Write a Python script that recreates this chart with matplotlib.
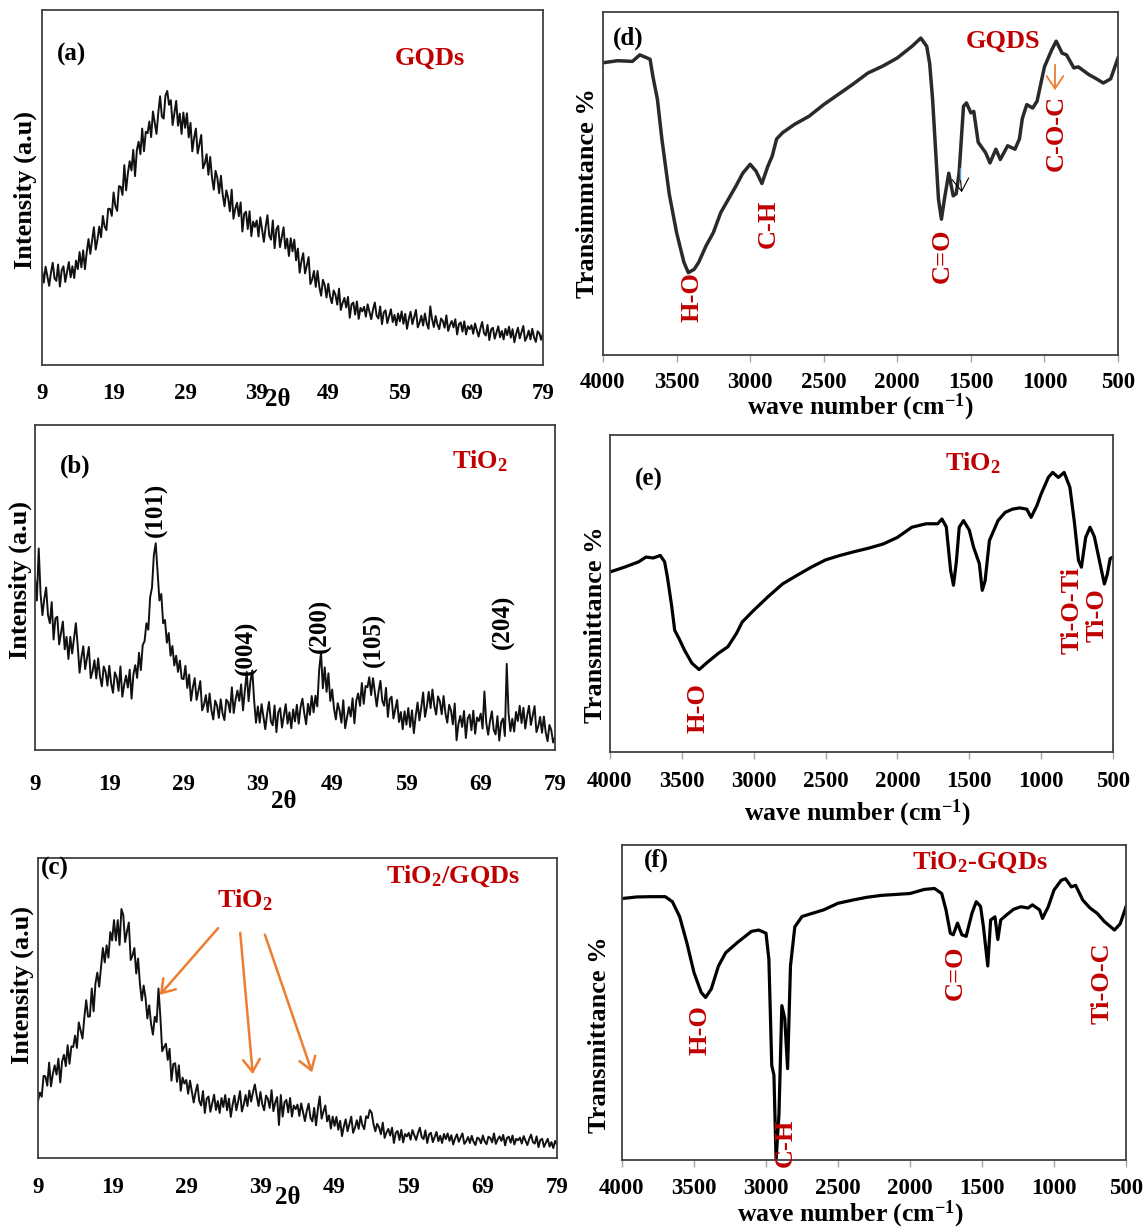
"""
plot.py
XRD patterns (a-c) and FTIR spectra (d-f) of GQDs, TiO2 and TiO2/GQDs.
"""

import matplotlib
matplotlib.use('Agg')
import matplotlib.pyplot as plt
import numpy as np

plt.rcParams['font.family'] = ['Liberation Serif', 'DejaVu Serif']
plt.rcParams['font.weight'] = 'bold'
plt.rcParams['mathtext.fontset'] = 'custom'
plt.rcParams['mathtext.rm'] = 'Liberation Serif:bold'
plt.rcParams['mathtext.bf'] = 'Liberation Serif:bold'
plt.rcParams['mathtext.it'] = 'Liberation Serif:bold'

# Constants
W, H = 1145, 1229
RED = '#C00000'
ORANGE = '#ED7D31'
SPINE = '#404040'

# ---------------- XRD data (2 theta step 0.25 deg, 9 -> 79) ----------------
TWO_THETA_START = 9
TWO_THETA_STEP = 0.25

# each row covers 5 degrees
xrd_gqds = [
    .268, .232, .277, .250, .223, .260, .288, .244, .237, .283, .221, .267, .278, .234, .262, .290, .247, .278, .245, .294,
    .270, .318, .275, .323, .270, .318, .355, .313, .350, .388, .325, .353, .390, .360, .420, .390, .380, .440, .440, .420,
    .486, .448, .434, .504, .502, .479, .563, .492, .540, .574, .548, .606, .532, .605, .629, .594, .666, .602, .657, .653,
    .686, .642, .714, .683, .651, .711, .757, .700, .694, .759, .772, .733, .746, .676, .710, .744, .674, .708, .651, .711,
    .668, .709, .641, .682, .602, .640, .666, .596, .622, .648, .554, .568, .594, .536, .586, .528, .494, .547, .527, .484,
    .533, .479, .447, .492, .471, .433, .494, .412, .440, .457, .419, .458, .376, .426, .432, .383, .433, .363, .404, .389,
    .407, .362, .416, .381, .347, .390, .422, .365, .353, .407, .329, .382, .392, .332, .360, .388, .328, .356, .307, .357,
    .320, .353, .295, .328, .260, .293, .315, .258, .280, .304, .228, .241, .265, .220, .265, .220, .195, .240, .225, .190,
    .229, .193, .174, .210, .198, .170, .215, .155, .175, .189, .162, .192, .133, .171, .176, .142, .179, .130, .161, .151,
    .164, .136, .171, .150, .129, .156, .176, .139, .131, .165, .115, .148, .154, .118, .138, .157, .121, .141, .112, .145,
    .123, .151, .116, .144, .102, .130, .150, .115, .135, .155, .106, .119, .139, .111, .145, .117, .102, .165, .129, .107,
    .138, .114, .101, .131, .124, .105, .140, .096, .113, .124, .106, .129, .086, .115, .120, .094, .123, .086, .109, .101,
    .112, .088, .117, .099, .080, .103, .121, .090, .083, .113, .070, .100, .105, .074, .092, .109, .078, .096, .072, .102,
    .084, .108, .077, .101, .064, .088, .105, .075, .092, .110, .068, .079, .097, .072, .102, .078, .065, .095, .089, .071,
    .090]

xrd_tio2 = [
    .530, .460, .620, .480, .415, .465, .500, .415, .390, .455, .340, .405, .410, .325, .360, .395, .310, .348, .280, .348,
    .297, .344, .390, .321, .238, .285, .319, .249, .283, .317, .221, .242, .276, .220, .282, .226, .196, .257, .241, .198,
    .259, .205, .176, .239, .223, .182, .257, .164, .200, .229, .192, .247, .158, .233, .261, .222, .299, .246, .323, .335,
    .390, .370, .470, .500, .600, .636, .550, .460, .480, .390, .400, .330, .360, .290, .320, .260, .290, .240, .275, .220,
    .218, .259, .191, .232, .152, .193, .221, .154, .182, .212, .122, .139, .169, .117, .174, .122, .094, .152, .137, .099,
    .156, .112, .092, .155, .147, .116, .193, .114, .155, .183, .151, .202, .122, .183, .240, .150, .211, .245, .152, .084,
    .134, .084, .141, .103, .064, .112, .148, .088, .076, .137, .055, .116, .129, .069, .105, .141, .081, .116, .067, .125,
    .088, .139, .081, .132, .158, .113, .079, .142, .108, .166, .116, .167, .134, .246, .300, .190, .254, .179, .236, .151,
    .186, .128, .094, .144, .122, .084, .153, .067, .100, .132, .103, .159, .082, .152, .174, .136, .206, .142, .197, .193,
    .224, .169, .221, .178, .134, .180, .213, .151, .136, .191, .102, .157, .164, .097, .125, .154, .086, .117, .064, .119,
    .078, .129, .071, .122, .052, .105, .146, .091, .132, .177, .102, .134, .179, .129, .186, .136, .109, .165, .150, .110,
    .166, .113, .084, .139, .122, .079, .143, .030, .080, .105, .071, .120, .037, .097, .109, .061, .121, .050, .100, .089,
    .112, .066, .180, .083, .047, .089, .119, .062, .048, .104, .029, .085, .097, .043, .265, .112, .058, .096, .057, .117,
    .089, .136, .083, .130, .066, .106, .136, .077, .106, .135, .055, .073, .102, .053, .103, .054, .027, .077, .061, .023,
    .040]

xrd_tio2_gqds = [
    .190, .218, .204, .274, .272, .241, .318, .239, .280, .309, .278, .331, .252, .322, .344, .306, .376, .314, .372, .370,
    .408, .367, .452, .425, .398, .469, .526, .471, .472, .565, .489, .582, .618, .571, .635, .700, .652, .709, .668, .753,
    .725, .793, .725, .793, .710, .830, .810, .720, .755, .785, .660, .675, .700, .615, .665, .580, .525, .575, .535, .465,
    .509, .447, .411, .471, .453, .565, .472, .356, .370, .381, .327, .364, .258, .313, .316, .254, .309, .224, .268, .248,
    .260, .214, .258, .221, .185, .220, .245, .190, .175, .223, .150, .198, .205, .154, .183, .211, .160, .190, .150, .200,
    .170, .210, .159, .198, .137, .178, .208, .159, .190, .223, .155, .178, .210, .173, .225, .188, .220, .245, .207, .173,
    .220, .179, .159, .208, .197, .167, .226, .156, .185, .203, .110, .210, .138, .186, .194, .152, .200, .138, .175, .163,
    .178, .140, .182, .153, .123, .157, .181, .134, .122, .167, .109, .164, .205, .131, .155, .175, .122, .142, .098, .138,
    .107, .137, .094, .124, .073, .105, .129, .089, .113, .138, .084, .101, .126, .097, .139, .110, .096, .139, .133, .160,
    .151, .113, .089, .114, .102, .079, .118, .067, .085, .097, .075, .101, .050, .084, .090, .060, .094, .052, .080, .072,
    .084, .061, .093, .076, .060, .083, .101, .070, .063, .092, .050, .079, .084, .053, .070, .087, .056, .074, .050, .080,
    .063, .082, .057, .076, .045, .065, .079, .054, .068, .082, .047, .056, .070, .050, .074, .054, .043, .068, .064, .049,
    .075, .055, .046, .071, .067, .052, .082, .047, .062, .072, .057, .077, .042, .067, .071, .051, .075, .045, .064, .059,
    .068, .048, .073, .058, .043, .063, .078, .053, .048, .072, .036, .060, .064, .037, .051, .064, .038, .053, .033, .057,
    .045]

xrd_ticks = [9, 19, 29, 39, 49, 59, 69, 79]

# ---------------- FTIR data ----------------
wn_gqds = [4000, 3900, 3800, 3750, 3700, 3680, 3660, 3630, 3600, 3550,
           3500, 3450, 3420, 3380, 3350, 3300, 3250, 3200, 3100, 3050,
           3000, 2960, 2920, 2880, 2850, 2820, 2780, 2700, 2600, 2500,
           2400, 2300, 2200, 2100, 2000, 1900, 1840, 1800, 1780, 1760,
           1740, 1720, 1700, 1680, 1650, 1620, 1600, 1580, 1550, 1530,
           1500, 1480, 1450, 1400, 1370, 1330, 1300, 1250, 1200, 1170,
           1150, 1120, 1080, 1050, 1020, 1000, 950, 920, 880, 850,
           800, 770, 700, 650, 600, 550, 500]
tr_gqds = [0.852, 0.858, 0.856, 0.875, 0.866, 0.862, 0.81, 0.745, 0.63, 0.47,
           0.357, 0.27, 0.24, 0.25, 0.27, 0.318, 0.357, 0.415, 0.49, 0.53,
           0.556, 0.536, 0.50, 0.55, 0.58, 0.63, 0.648, 0.672, 0.696, 0.73,
           0.76, 0.79, 0.822, 0.842, 0.866, 0.90, 0.924, 0.90, 0.85, 0.745,
           0.60, 0.454, 0.396, 0.454, 0.53, 0.464, 0.47, 0.53, 0.725, 0.735,
           0.706, 0.71, 0.62, 0.59, 0.56, 0.60, 0.57, 0.61, 0.60, 0.63,
           0.69, 0.73, 0.72, 0.74, 0.80, 0.84, 0.89, 0.915, 0.88, 0.875,
           0.837, 0.84, 0.818, 0.806, 0.793, 0.805, 0.866]

wn_tio2 = [4000, 3900, 3800, 3750, 3700, 3650, 3620, 3600, 3570, 3550,
           3520, 3480, 3430, 3380, 3330, 3250, 3180, 3120, 3080, 3000,
           2900, 2800, 2700, 2600, 2500, 2400, 2300, 2200, 2100, 2000,
           1900, 1800, 1720, 1690, 1660, 1630, 1610, 1590, 1570, 1540,
           1500, 1470, 1430, 1410, 1390, 1360, 1300, 1250, 1200, 1150,
           1100, 1070, 1030, 1000, 950, 920, 880, 840, 800, 770,
           740, 720, 690, 660, 630, 590, 560, 540, 520, 500]
tr_tio2 = [0.568, 0.583, 0.60, 0.615, 0.612, 0.62, 0.60, 0.55, 0.458, 0.384,
           0.358, 0.32, 0.28, 0.26, 0.28, 0.31, 0.332, 0.374, 0.41, 0.447,
           0.49, 0.53, 0.557, 0.583, 0.606, 0.62, 0.632, 0.643, 0.656, 0.677,
           0.709, 0.72, 0.72, 0.735, 0.71, 0.573, 0.526, 0.60, 0.709, 0.73,
           0.70, 0.646, 0.594, 0.51, 0.54, 0.667, 0.73, 0.756, 0.766, 0.77,
           0.766, 0.74, 0.777, 0.814, 0.866, 0.882, 0.866, 0.882, 0.835, 0.73,
           0.604, 0.583, 0.677, 0.709, 0.68, 0.594, 0.53, 0.56, 0.61, 0.615]

wn_tio2_gqds = [4000, 3900, 3800, 3700, 3650, 3600, 3550, 3500, 3450, 3420,
                3380, 3330, 3280, 3200, 3100, 3050, 3000, 2980, 2960, 2945,
                2930, 2910, 2890, 2870, 2850, 2830, 2800, 2750, 2700, 2600,
                2500, 2400, 2300, 2200, 2000, 1900, 1830, 1780, 1750, 1720,
                1700, 1670, 1640, 1610, 1570, 1540, 1510, 1490, 1460, 1440,
                1410, 1390, 1370, 1330, 1280, 1230, 1180, 1150, 1100, 1080,
                1040, 1000, 950, 920, 880, 850, 800, 750, 700, 650,
                580, 540, 500]
tr_tio2_gqds = [0.83, 0.835, 0.836, 0.836, 0.82, 0.773, 0.69, 0.595, 0.532, 0.516,
                0.543, 0.616, 0.658, 0.69, 0.726, 0.73, 0.72, 0.637, 0.30, 0.27,
                0.0, 0.145, 0.49, 0.45, 0.29, 0.616, 0.74, 0.773, 0.78, 0.794,
                0.815, 0.825, 0.834, 0.84, 0.846, 0.859, 0.862, 0.846, 0.794, 0.72,
                0.715, 0.752, 0.715, 0.71, 0.783, 0.82, 0.805, 0.74, 0.616, 0.762,
                0.772, 0.70, 0.762, 0.778, 0.796, 0.804, 0.8, 0.81, 0.794, 0.767,
                0.804, 0.857, 0.888, 0.893, 0.867, 0.872, 0.825, 0.80, 0.783, 0.757,
                0.73, 0.75, 0.804]

ftir_ticks = [4000, 3500, 3000, 2500, 2000, 1500, 1000, 500]


def box(l, t, r, b):
    """Axes rectangle from pixel edges."""
    return [l / W, 1 - b / H, (r - l) / W, (b - t) / H]


def fp(x, y):
    """Figure fraction from pixel position."""
    return x / W, 1 - y / H


def label(fig, x, y, s, size=17, color='black', rot=0):
    fx, fy = fp(x, y)
    fig.text(fx, fy, s, fontsize=size, color=color, rotation=rot,
             ha='center', va='center', fontweight='bold')


def style_axes(ax):
    for sp in ax.spines.values():
        sp.set_color(SPINE)
        sp.set_linewidth(1.3)
    ax.set_yticks([])
    ax.set_ylim(0, 1)


def xrd_panel(fig, rect, values, pad):
    ax = fig.add_axes(rect)
    theta = TWO_THETA_START + TWO_THETA_STEP * np.arange(len(values))
    ax.plot(theta, values, color='#111111', lw=1.4)
    ax.set_xlim(9, 79)
    ax.set_xticks(xrd_ticks)
    ax.tick_params(axis='x', length=0, pad=pad, labelsize=16.5)
    style_axes(ax)
    return ax


def ftir_panel(fig, rect, wn, tr, color='black', lw=2.3, pad=8.5):
    ax = fig.add_axes(rect)
    ax.plot(wn, tr, color=color, lw=lw, solid_joinstyle='round')
    ax.set_xlim(4000, 500)
    ax.set_xticks(ftir_ticks)
    ax.tick_params(axis='x', length=5, width=1, color='#a6a6a6',
                   direction='out', pad=pad, labelsize=16.5)
    style_axes(ax)
    return ax


fig = plt.figure(figsize=(W / 100, H / 100), dpi=100)

# XRD panels
xrd_panel(fig, box(42, 10, 543, 365), xrd_gqds, 13)
xrd_panel(fig, box(35, 425, 555, 750), xrd_tio2, 17)
xrd_panel(fig, box(38, 858, 557, 1158), xrd_tio2_gqds, 13.5)

# FTIR panels
ftir_panel(fig, box(603, 12, 1118, 355), wn_gqds, tr_gqds, color='#2a2a2a', lw=2.5, pad=7.5)
ftir_panel(fig, box(610, 435, 1113, 752), wn_tio2, tr_tio2)
ftir_panel(fig, box(622, 845, 1126, 1160), wn_tio2_gqds, tr_tio2_gqds, pad=8)

# Axis titles
for x, y in [(25, 190), (20, 580), (22, 985)]:
    label(fig, x, y, 'Intensity (a.u)', size=19, rot=90)
for x, y in [(278, 400), (284, 801), (288, 1198)]:
    label(fig, x, y, '2θ', size=18)
label(fig, 588, 193, 'Transimmtance %', size=19, rot=90)
label(fig, 596, 625, 'Transmittance %', size=19, rot=90)
label(fig, 600, 1035, 'Transmittance %', size=19, rot=90)
label(fig, 860, 407, r'wave number (cm$^{-1}$)', size=18.5)
label(fig, 857, 813, r'wave number (cm$^{-1}$)', size=18.5)
label(fig, 850, 1214, r'wave number (cm$^{-1}$)', size=18.5)

# Panel letters and sample names
label(fig, 72, 54, '(a)', size=18)
label(fig, 75, 466, '(b)', size=18)
label(fig, 55, 868, '(c)', size=18)
label(fig, 628, 38, '(d)', size=18)
label(fig, 649, 479, '(e)', size=18)
label(fig, 656, 860, '(f)', size=18)
label(fig, 430, 58, 'GQDs', size=19, color=RED)
label(fig, 480, 461, r'TiO$_2$', size=19, color=RED)
label(fig, 453, 876, r'TiO$_2$/GQDs', size=19, color=RED)
label(fig, 245, 900, r'TiO$_2$', size=19, color=RED)
label(fig, 1003, 41, 'GQDS', size=19, color=RED)
label(fig, 973, 463, r'TiO$_2$', size=19, color=RED)
label(fig, 980, 862, r'TiO$_2$-GQDs', size=19, color=RED)

# XRD plane indices
for x, y, s in [(156, 510, '(101)'), (246, 648, '(004)'), (320, 626, '(200)'),
                (374, 640, '(105)'), (503, 622, '(204)')]:
    label(fig, x, y, s, size=18, rot=90)

# FTIR band labels
for x, y, s in [(692, 297, 'H-O'), (768, 224, 'C-H'), (942, 256, 'C=O'),
                (1056, 133, 'C-O-C'),
                (698, 708, 'H-O'), (1072, 610, 'Ti-O-Ti'), (1097, 615, 'Ti-O'),
                (700, 1030, 'H-O'), (785, 1143, 'C-H'), (955, 973, 'C=O'),
                (1102, 983, 'Ti-O-C')]:
    label(fig, x, y, s, size=19, color=RED, rot=90)


def arrow(x0, y0, x1, y1, color, lw):
    fig.add_artist(matplotlib.patches.FancyArrowPatch(
        fp(x0, y0), fp(x1, y1), transform=fig.transFigure,
        arrowstyle='->,head_length=6,head_width=4', color=color, lw=lw,
        mutation_scale=1.5))


arrow(220, 926, 158, 997, ORANGE, 1.8)
arrow(240, 930, 253, 1077, ORANGE, 1.8)
arrow(264, 932, 313, 1075, ORANGE, 1.8)
arrow(1055, 62, 1055, 93, ORANGE, 1.3)
arrow(960, 175, 962, 195, 'black', 0.8)
fig.add_artist(plt.Line2D([fp(960, 168)[0]] * 2, [fp(960, 168)[1], fp(960, 179)[1]],
                          transform=fig.transFigure, color='#5B9BD5', lw=1))

fig.savefig('out.png', dpi=100)
